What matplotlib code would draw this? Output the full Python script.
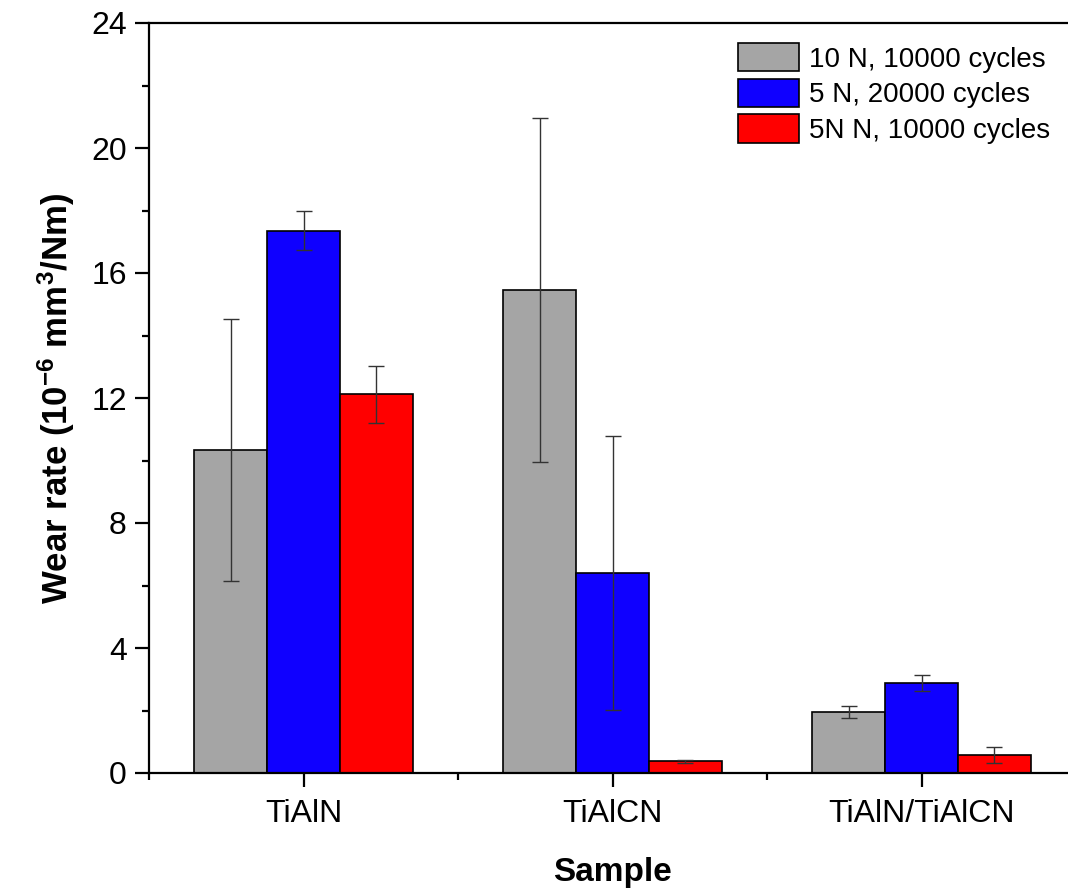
import numpy as np
from matplotlib import pyplot as plt
from matplotlib.ticker import MultipleLocator

plt.rcParams["font.family"] = ["Liberation Sans", "DejaVu Sans"]
plt.rcParams["mathtext.fontset"] = "custom"
plt.rcParams["mathtext.rm"] = "Liberation Sans"
plt.rcParams["mathtext.bf"] = "Liberation Sans:bold"
plt.rcParams["mathtext.default"] = "bf"

samples = ["TiAlN", "TiAlCN", "TiAlN/TiAlCN"]
series = ["10 N, 10000 cycles", "5 N, 20000 cycles", "5N N, 10000 cycles"]
colors = ["#a5a5a5", "#0f00ff", "#ff0000"]

means = [
    [10.34, 15.46, 1.95],
    [17.36, 6.40, 2.88],
    [12.12, 0.38, 0.58],
]
errs = [
    [4.2, 5.5, 0.19],
    [0.62, 4.38, 0.27],
    [0.91, 0.05, 0.26],
]

fig = plt.figure(figsize=(10.68, 8.92), dpi=100)
ax = fig.add_axes([149 / 1068, 1 - 773 / 892, 927 / 1068, 750 / 892])

x = np.arange(1, len(samples) + 1)
width = 0.236
for i, (name, color) in enumerate(zip(series, colors)):
    ax.bar(
        x + (i - 1) * width, means[i], width,
        yerr=errs[i], color=color, edgecolor="black", linewidth=1.2,
        label=name,
        error_kw=dict(ecolor="#333333", elinewidth=1.0, capsize=5.5, capthick=1.0),
    )

ax.set_xlim(0.5, 3.5)
ax.set_ylim(0, 24)
ax.set_xticks(x)
ax.set_xticklabels(samples)
ax.xaxis.set_minor_locator(MultipleLocator(1.0, offset=0.5))
ax.yaxis.set_major_locator(MultipleLocator(4))
ax.yaxis.set_minor_locator(MultipleLocator(2))
ax.tick_params(which="major", direction="out", length=10, width=1.6, labelsize=23, pad=6)
ax.tick_params(axis="x", which="major", pad=9)
ax.tick_params(which="minor", direction="out", length=5, width=1.6)
for s in ax.spines.values():
    s.set_linewidth(1.6)

ax.set_xlabel("Sample", fontsize=24, fontweight="bold", labelpad=20)
ax.set_ylabel(r"Wear rate (10$^{-6}$ mm$^{3}$/Nm)",
              fontsize=25, fontweight="bold", labelpad=10)

ax.legend(
    loc="upper left", bbox_to_anchor=(738 / 1068, 1 - 43 / 892),
    bbox_transform=fig.transFigure, frameon=False, fontsize=20,
    handlelength=2.2, handleheight=1.2, handletextpad=0.35,
    labelspacing=0.22, borderpad=0, borderaxespad=0,
)

fig.savefig("out.png", dpi=100)
